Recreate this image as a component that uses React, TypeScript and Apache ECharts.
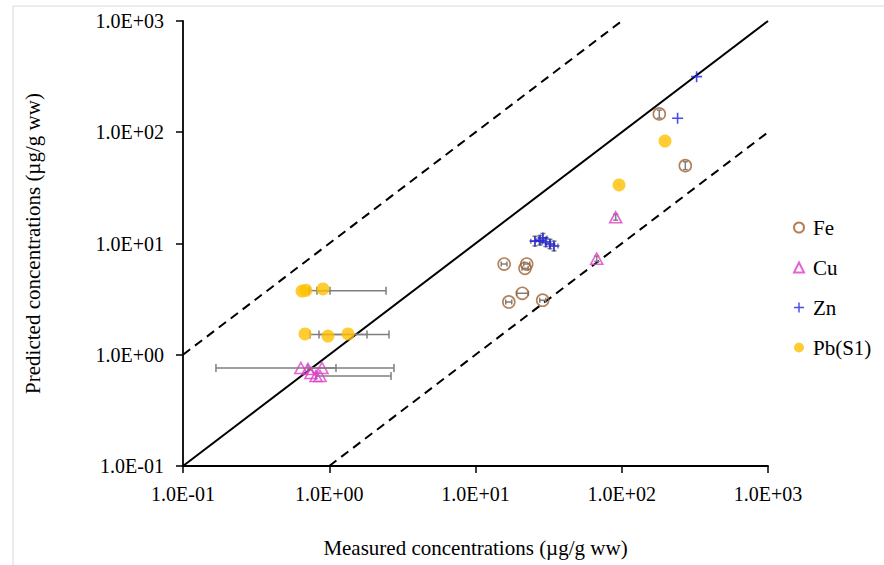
import React, { useEffect, useRef } from "react";
import * as echarts from "echarts";

const seriesNames = ["Fe", "Cu", "Zn", "Pb(S1)"];
const axisTicks = [0.1, 1, 10, 100, 1000];

const feData = [
  [15.7, 6.54], [22.4, 6.54], [21.8, 5.98], [20.9, 3.57],
  [16.9, 2.98], [28.8, 3.09], [180.6, 146], [272, 50.1],
];
const cuData = [
  [0.64, 0.76], [0.715, 0.745], [0.75, 0.686], [0.812, 0.644],
  [0.865, 0.644], [0.892, 0.76], [90.9, 17.2], [67.4, 7.3],
];
const znData = [
  [25.5, 10.5], [27.6, 10.7], [28.9, 11.2], [30.3, 10.3],
  [32.3, 9.9], [34.4, 9.5], [325, 316], [241, 133.5],
];
const pbData = [
  [0.651, 3.74], [0.693, 3.8], [0.906, 3.9], [0.683, 1.537],
  [0.98, 1.474], [1.343, 1.537], [95.8, 33.6], [197.6, 83.4],
];

// horizontal error bars: [y, xLow, xHigh]
const wideXErrors = [
  [3.77, 0.727, 1.012], [3.77, 0.824, 2.445],
  [1.52, 0.739, 1.812], [1.52, 0.851, 2.562],
  [0.76, 0.168, 1.112], [0.76, 0.715, 2.772],
  [0.644, 0.812, 2.645],
];
const smallXErrors = [
  [6.54, 15.0, 16.4], [6.54, 21.4, 23.5], [5.98, 20.8, 22.9], [3.57, 19.1, 23.0],
  [2.98, 16.1, 17.7], [3.09, 27.5, 30.2],
  [10.5, 23.9, 27.2], [10.7, 25.9, 29.4], [11.2, 27.1, 30.8],
  [10.3, 28.5, 32.3], [9.9, 30.3, 34.4], [9.5, 32.3, 36.6],
];
// vertical error bars: [x, yLow, yHigh]
const smallYErrors = [
  [180.6, 134, 158], [272, 46.1, 54.4],
  [25.5, 9.5, 11.6], [27.6, 9.7, 11.8], [28.9, 10.2, 12.3],
  [30.3, 9.4, 11.3], [32.3, 9.0, 10.9], [34.4, 8.6, 10.5],
  [90.9, 16.2, 18.3], [67.4, 6.9, 7.7],
];

const identityLine = [[0.1, 0.1], [1000, 1000]];
const upperLine = [[0.1, 1], [100, 1000]];
const lowerLine = [[1, 0.1], [1000, 100]];

const serif = "'Liberation Serif', serif";
const barColor = "#7f7f7f";

function fmt(v: number) {
  const e = Math.round(Math.log10(v));
  const sign = e < 0 ? "-" : "+";
  const abs = Math.abs(e);
  return "1.0E" + sign + (abs < 10 ? "0" + abs : String(abs));
}

function hBar(cap: number) {
  return (params: any, api: any) => {
    const y = api.value(0);
    const a = api.coord([api.value(1), y]);
    const b = api.coord([api.value(2), y]);
    const style = { stroke: barColor, lineWidth: 1.5 };
    return {
      type: "group",
      children: [
        { type: "line", shape: { x1: a[0], y1: a[1], x2: b[0], y2: b[1] }, style },
        { type: "line", shape: { x1: a[0], y1: a[1] - cap, x2: a[0], y2: a[1] + cap }, style },
        { type: "line", shape: { x1: b[0], y1: b[1] - cap, x2: b[0], y2: b[1] + cap }, style },
      ],
    };
  };
}

function vBar(cap: number) {
  return (params: any, api: any) => {
    const x = api.value(0);
    const a = api.coord([x, api.value(1)]);
    const b = api.coord([x, api.value(2)]);
    const style = { stroke: barColor, lineWidth: 1.5 };
    return {
      type: "group",
      children: [
        { type: "line", shape: { x1: a[0], y1: a[1], x2: b[0], y2: b[1] }, style },
        { type: "line", shape: { x1: a[0] - cap, y1: a[1], x2: a[0] + cap, y2: a[1] }, style },
        { type: "line", shape: { x1: b[0] - cap, y1: b[1], x2: b[0] + cap, y2: b[1] }, style },
      ],
    };
  };
}

const plusPath = "path://M4.7,0H6.3V11H4.7Z M0,4.7H11V6.3H0Z";

export default function App() {
  const ref = useRef<HTMLDivElement>(null);
  useEffect(() => {
    if (!ref.current) return;
    const chart = echarts.init(ref.current, null, { renderer: "svg" });
    const axisCommon = {
      type: "log",
      logBase: 10,
      min: axisTicks[0],
      max: axisTicks[axisTicks.length - 1],
      splitLine: { show: false },
      minorTick: { show: false },
      axisLine: { show: true, lineStyle: { color: "#000", width: 1.8 } },
      axisTick: { show: true, inside: false, length: 7, lineStyle: { color: "#000", width: 1.5 } },
      axisLabel: { formatter: fmt, fontFamily: serif, fontSize: 20, color: "#000" },
      nameLocation: "middle",
      nameTextStyle: { fontFamily: serif, fontSize: 21, color: "#000" },
    };
    const lineCommon = {
      type: "line",
      symbol: "none",
      silent: true,
      z: 1,
    };
    const legendText = {
      fontFamily: serif,
      fontSize: 21,
      color: "#000",
      padding: [0, 0, 0, 4],
    };
    chart.setOption({
      animation: false,
      backgroundColor: "#fff",
      textStyle: { fontFamily: serif },
      grid: { left: 183, right: 116, top: 21, bottom: 99 },
      xAxis: {
        ...axisCommon,
        name: "Measured concentrations (µg/g ww)",
        nameGap: 71,
        axisLabel: { ...axisCommon.axisLabel, margin: 18 },
      },
      yAxis: {
        ...axisCommon,
        name: "Predicted concentrations (µg/g ww)",
        nameGap: 140,
        axisLabel: { ...axisCommon.axisLabel, margin: 19 },
      },
      legend: {
        data: seriesNames.map((name) => ({ name, textStyle: legendText })),
        orient: "vertical",
        left: 788,
        top: 212,
        itemGap: 19,
        itemWidth: 10,
        itemHeight: 10,
        textStyle: legendText,
      },
      graphic: [
        {
          type: "rect",
          shape: { x: 13, y: 6, width: 900, height: 600 },
          style: { fill: "none", stroke: "#d9d9d9", lineWidth: 1 },
          silent: true,
          z: -10,
        },
      ],
      series: [
        { ...lineCommon, data: identityLine, lineStyle: { color: "#000", width: 2 } },
        { ...lineCommon, data: upperLine, lineStyle: { color: "#000", width: 2, type: [9, 6] } },
        { ...lineCommon, data: lowerLine, lineStyle: { color: "#000", width: 2, type: [9, 6] } },
        { type: "custom", renderItem: hBar(4), data: wideXErrors, encode: { x: [1, 2], y: 0 }, z: 2, silent: true },
        { type: "custom", renderItem: hBar(2.5), data: smallXErrors, encode: { x: [1, 2], y: 0 }, z: 2, silent: true },
        { type: "custom", renderItem: vBar(2.5), data: smallYErrors, encode: { x: 0, y: [1, 2] }, z: 2, silent: true },
        {
          name: "Fe", type: "scatter", data: feData, symbol: "circle", symbolSize: 12, z: 3,
          itemStyle: { color: "rgba(255,255,255,0)", borderColor: "#A0602D", borderWidth: 1.6 },
        },
        {
          name: "Cu", type: "scatter", data: cuData, symbol: "triangle", symbolSize: [12, 11], z: 3,
          itemStyle: { color: "rgba(255,255,255,0)", borderColor: "#E03CC8", borderWidth: 1.6 },
        },
        {
          name: "Zn", type: "scatter", data: znData, symbol: plusPath, symbolSize: 11, z: 4,
          itemStyle: { color: "#1E1EE6" },
        },
        {
          name: "Pb(S1)", type: "scatter", data: pbData, symbol: "circle", symbolSize: 13, z: 5,
          itemStyle: { color: "#FFC000" },
        },
      ],
    });
    return () => chart.dispose();
  }, []);
  return (
    <div
      ref={ref}
      style={{ position: "fixed", left: 0, top: 0, width: 884, height: 565, background: "#fff" }}
    />
  );
}
